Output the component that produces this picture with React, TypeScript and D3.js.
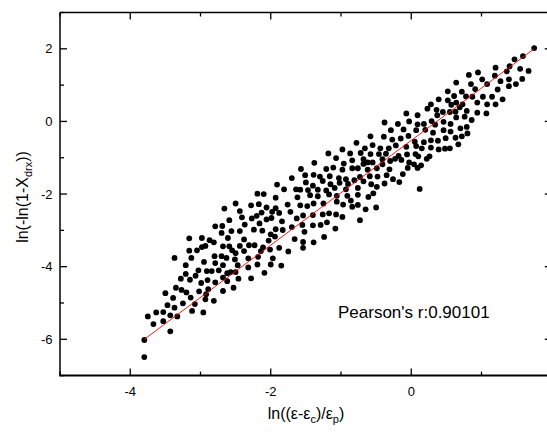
import React from 'react';
import * as d3 from 'd3';

const W = 547;
const H = 432;

const xDomain: [number, number] = [-5, 2];
const yDomain: [number, number] = [-7, 3];
const xMajor = [-4, -2, 0, 2];
const xMinor = [-5, -3, -1, 1];
const yMajor = [-6, -4, -2, 0, 2];
const yMinor = [-7, -5, -3, -1, 1, 3];
const fitLine: [number, number][] = [[-3.8, -6.0], [1.75, 2.0]];
const pearsonLabel = "Pearson's r:0.90101";

const lowerCloud: [number, number][] = [
  [-3.80,-6.02],[-3.80,-6.49],[-3.43,-5.78],[-3.67,-5.58],[-3.53,-5.50],[-3.75,-5.37],[-3.63,-5.26],[-3.53,-5.25],
  [-3.43,-5.34],[-3.33,-5.37],[-3.47,-5.06],[-3.37,-5.13],[-3.39,-4.86],[-3.50,-4.73],[-3.35,-4.58],[-3.27,-4.64],
  [-3.20,-4.71],[-3.25,-5.01],[-3.14,-4.85],[-3.12,-5.22],[-3.08,-5.03],[-2.96,-5.26],[-3.02,-4.68],[-2.92,-4.76],
  [-2.93,-4.90],[-2.81,-4.94],[-2.89,-4.62],[-2.99,-4.45],[-2.90,-4.37],[-2.79,-4.43],[-3.28,-4.33],[-3.21,-4.20],
  [-3.15,-4.36],[-3.07,-4.25],[-3.03,-4.10],[-3.21,-3.96],[-3.13,-3.76],[-3.16,-3.56],[-3.37,-3.76],[-3.05,-3.55],
  [-2.95,-3.87],[-2.91,-4.12],[-2.84,-4.12],[-2.98,-3.46],[-2.93,-3.43],[-2.87,-3.27],[-2.98,-3.21],[-3.16,-3.22],
  [-2.81,-3.33],[-2.80,-3.71],[-2.79,-3.90],[-2.70,-3.71],[-2.68,-3.96],[-2.74,-4.10],[-2.62,-4.18],[-2.68,-4.30],
  [-2.79,-2.89],[-2.69,-2.88],[-2.66,-2.40],[-2.59,-2.72],[-2.56,-3.02],[-2.70,-3.07],[-2.61,-3.21],[-2.68,-3.44],
  [-2.59,-3.44],[-2.55,-3.55],[-2.63,-3.76],[-2.50,-3.63],[-2.51,-3.80],[-2.47,-3.96],[-2.57,-4.15],[-2.50,-4.15],
  [-2.46,-4.33],[-2.53,-4.58],[-2.62,-4.40],[-2.68,-4.67],
];

const middleCloud: [number, number][] = [
  [-2.50,-2.26],[-2.44,-2.47],[-2.41,-2.64],[-2.44,-3.02],[-2.37,-2.84],[-2.38,-3.25],[-2.44,-3.43],[-2.38,-3.57],
  [-2.31,-3.41],[-2.32,-3.77],[-2.32,-4.02],[-2.28,-4.32],[-2.27,-2.67],[-2.28,-2.31],[-2.24,-2.98],[-2.20,-2.60],
  [-2.19,-1.99],[-2.17,-2.28],[-2.13,-2.51],[-2.16,-2.81],[-2.12,-3.01],[-2.23,-3.41],[-2.11,-3.47],[-2.14,-3.57],
  [-2.18,-3.73],[-2.19,-3.94],[-2.10,-2.00],[-2.06,-2.37],[-2.06,-2.70],[-2.03,-3.28],[-2.00,-3.11],[-2.01,-3.53],
  [-1.97,-3.77],[-2.00,-3.94],[-2.09,-4.17],[-1.98,-2.49],[-1.99,-2.66],[-1.93,-2.39],[-1.91,-1.74],[-1.93,-2.10],
  [-1.88,-2.52],[-1.93,-2.97],[-1.94,-3.17],[-1.84,-2.75],[-1.83,-2.99],[-1.88,-3.48],[-1.85,-3.97],[-1.75,-3.58],
  [-1.81,-1.87],[-1.76,-2.29],[-1.72,-2.49],[-1.70,-1.56],[-1.64,-1.87],[-1.62,-2.09],[-1.63,-2.67],[-1.66,-3.24],
  [-1.70,-2.91],
];

const centralCloud: [number, number][] = [
  [-1.57,-1.31],[-1.51,-1.48],[-1.39,-1.47],[-1.30,-1.52],[-1.26,-1.64],[-1.16,-1.51],[-1.03,-1.56],[-0.93,-1.59],
  [-0.81,-1.62],[-0.73,-1.53],[-0.59,-1.51],[-0.48,-1.52],[-0.35,-1.48],[-0.26,-1.59],[-0.38,-1.71],[-0.57,-1.73],
  [-0.68,-1.65],[-0.90,-1.72],[-1.02,-1.69],[-1.15,-1.73],[-1.40,-1.77],[-1.50,-1.68],[0.12,-1.86],[-0.49,-1.80],
  [-0.76,-1.83],[-0.93,-1.87],[-1.09,-1.83],[-1.21,-1.90],[-1.33,-1.88],[-1.47,-1.89],[-1.58,-1.88],[-1.44,-2.03],
  [-1.33,-2.06],[-1.17,-2.01],[-1.06,-2.05],[-0.91,-2.05],[-0.76,-2.02],[-0.61,-2.08],[-0.54,-1.98],[-1.58,-2.31],
  [-1.48,-2.33],[-1.39,-2.26],[-1.25,-2.26],[-1.06,-2.21],[-0.97,-2.29],[-0.86,-2.18],[-0.76,-2.30],[-0.65,-2.42],
  [-0.50,-2.37],[-0.84,-2.35],[-0.98,-2.63],[-1.07,-2.56],[-1.17,-2.53],[-1.26,-2.56],[-1.40,-2.58],[-1.54,-2.59],
  [-1.29,-2.85],[-1.40,-2.86],[-1.55,-2.85],[-1.20,-2.78],[-1.08,-2.95],[-0.73,-2.72],[-1.24,-3.18],[-1.39,-3.33],
  [-1.54,-3.32],[-1.54,-3.48],[-1.52,-3.04],
  [-1.38,-1.14],[-1.21,-1.31],[-1.11,-1.27],[-0.98,-1.33],[-0.96,-1.16],[-0.84,-1.29],[-0.76,-1.29],[-0.68,-1.17],
  [-0.62,-1.33],[-0.49,-1.29],[-0.41,-1.18],[-0.31,-1.32],[-0.17,-1.67],[-0.12,-1.45],[-0.05,-1.28],[0.09,-1.28],
  [0.14,-1.21],[0.04,-1.18],[-0.03,-1.13],[-0.14,-1.06],[-0.23,-1.03],[-0.30,-1.09],[-0.41,-1.04],[-0.55,-1.13],
  [-0.62,-1.13],[-0.68,-1.04],[-0.84,-1.07],[-1.07,-1.01],[-1.18,-0.88],[0.26,-0.96],[0.22,-1.03],[0.10,-0.96],
  [0.06,-0.90],[-0.06,-0.91],[-0.18,-0.95],[-0.36,-0.89],[-0.46,-0.90],[-0.58,-0.90],[-0.72,-0.87],[-0.87,-0.88],
  [-0.98,-0.77],
];

const upperCloud: [number, number][] = [
  [0.67,-0.63],[0.55,-0.74],[0.48,-0.75],[0.39,-0.77],[0.28,-0.72],[0.15,-0.74],[0.07,-0.68],[-0.07,-0.70],
  [-0.22,-0.66],[-0.32,-0.74],[-0.44,-0.74],[-0.55,-0.65],[-0.66,-0.74],[-0.78,-0.59],[-0.58,-0.41],[-0.39,-0.42],
  [-0.27,-0.50],[-0.15,-0.47],[-0.04,-0.40],[0.05,-0.56],[0.18,-0.57],[0.28,-0.52],[0.38,-0.53],[0.49,-0.46],
  [0.63,-0.45],[0.72,-0.41],[0.80,-0.33],[0.79,-0.15],[0.70,-0.19],[0.56,-0.28],[0.46,-0.24],[0.31,-0.31],
  [0.20,-0.23],[0.07,-0.24],[-0.11,-0.22],[-0.29,-0.24],[-0.38,-0.03],[-0.19,-0.07],[0.09,-0.08],[-0.03,0.00],
  [-0.07,0.22],[0.09,0.17],[0.18,-0.07],[0.34,-0.09],[0.29,0.01],[0.37,0.17],[0.46,-0.01],[0.56,-0.07],
  [0.64,0.11],[0.76,0.13],[0.86,0.04],[0.94,0.24],[0.79,0.29],[0.63,0.27],[0.55,0.26],[0.45,0.26],
  [0.57,0.46],[0.36,0.32],[0.23,0.35],[0.28,0.47],[0.69,0.39],[0.73,0.47],[0.64,0.52],[0.52,0.58],
  [0.39,0.61],[0.94,0.52],[0.61,0.70],[0.78,0.69],[0.87,0.68],[0.91,0.89],[0.72,0.82],[0.52,0.83],
  [0.64,1.07],[0.85,1.03],[0.95,1.35],[0.82,1.28],
  [1.75,2.02],[1.59,1.80],[1.47,1.71],[1.40,1.52],[1.36,1.38],[1.55,1.45],[1.67,1.39],[1.58,1.17],
  [1.49,1.03],[1.39,0.97],[1.39,1.16],[1.27,1.11],[1.20,1.48],[1.19,1.26],[1.08,1.03],[1.23,0.88],
  [1.15,0.68],[1.30,0.61],[1.20,0.47],[1.08,0.47],[1.07,0.22],[1.02,0.68],[1.01,1.16],
];

const allPoints = [...lowerCloud, ...middleCloud, ...centralCloud, ...upperCloud];

const FONT = '"Liberation Sans", Arial, Helvetica, sans-serif';

export default function App() {
  const x = d3.scaleLinear().domain(xDomain).range([60, 551.75]);
  const y = d3.scaleLinear().domain(yDomain).range([375.6, 12.5]);
  const [x0, x1] = x.range();
  const [y0, y1] = y.range();
  const line = d3.line<[number, number]>().x(d => x(d[0])).y(d => y(d[1]));
  const majorLen = 7;
  const minorLen = 4;

  return (
    <svg width={W} height={H} style={{ position: 'absolute', left: 0, top: 0, background: '#fff' }}
      fontFamily={FONT}>
      <rect x={0} y={0} width={W} height={H} fill="#fff" />
      {/* points */}
      <g fill="#000">
        {allPoints.map((p, i) => (
          <circle key={i} cx={x(p[0])} cy={y(p[1])} r={2.9} />
        ))}
      </g>
      {/* fit line */}
      <path d={line(fitLine) || ''} stroke="#ff0000" strokeWidth={0.9} fill="none" />

      {/* frame */}
      <g stroke="#000" fill="none">
        <line x1={x0} x2={x1} y1={y1} y2={y1} strokeWidth={1.5} />
        <line x1={x0} x2={x0} y1={y1} y2={y0} strokeWidth={1.5} />
        <line x1={x1} x2={x1} y1={y1} y2={y0} strokeWidth={1.5} />
        <line x1={x0 - 0.75} x2={x1} y1={y0} y2={y0} strokeWidth={2} />
      </g>
      {/* ticks */}
      <g stroke="#000" strokeWidth={1.3}>
        {xMajor.map(v => (
          <g key={'xm' + v}>
            <line x1={x(v)} x2={x(v)} y1={y0} y2={y0 - majorLen} />
            <line x1={x(v)} x2={x(v)} y1={y1} y2={y1 + majorLen} />
          </g>
        ))}
        {xMinor.map(v => (
          <g key={'xn' + v}>
            <line x1={x(v)} x2={x(v)} y1={y0} y2={y0 - minorLen} />
            <line x1={x(v)} x2={x(v)} y1={y1} y2={y1 + minorLen} />
          </g>
        ))}
        {yMajor.map(v => (
          <g key={'ym' + v}>
            <line x1={x0} x2={x0 + majorLen} y1={y(v)} y2={y(v)} />
            <line x1={x1} x2={x1 - majorLen} y1={y(v)} y2={y(v)} />
          </g>
        ))}
        {yMinor.map(v => (
          <g key={'yn' + v}>
            <line x1={x0} x2={x0 + minorLen} y1={y(v)} y2={y(v)} />
            <line x1={x1} x2={x1 - minorLen} y1={y(v)} y2={y(v)} />
          </g>
        ))}
      </g>
      {/* tick labels */}
      <g fontSize={13} fill="#000">
        {xMajor.filter(v => x(v) < W - 5).map(v => (
          <text key={'xl' + v} x={x(v)} y={396} textAnchor="middle">{d3.format('d')(v).replace('−', '-')}</text>
        ))}
        {yMajor.map(v => (
          <text key={'yl' + v} x={52.5} y={y(v)} dy="0.36em" textAnchor="end">{d3.format('d')(v).replace('−', '-')}</text>
        ))}
      </g>
      {/* x title */}
      <text x={306} y={419} fontSize={16} textAnchor="middle" fill="#000">
        ln((ε-ε<tspan fontSize={11} dy={4}>c</tspan><tspan dy={-4}>)/ε</tspan><tspan fontSize={11} dy={4}>p</tspan><tspan dy={-4}>)</tspan>
      </text>
      {/* y title */}
      <text transform={`translate(28,197) rotate(-90)`} fontSize={16} textAnchor="middle" fill="#000">
        ln(-ln(1-X<tspan fontSize={11} dy={4}>drx</tspan><tspan dy={-4}>))</tspan>
      </text>
      {/* pearson */}
      <text x={338} y={318} fontSize={17} fill="#000">{pearsonLabel}</text>
    </svg>
  );
}
